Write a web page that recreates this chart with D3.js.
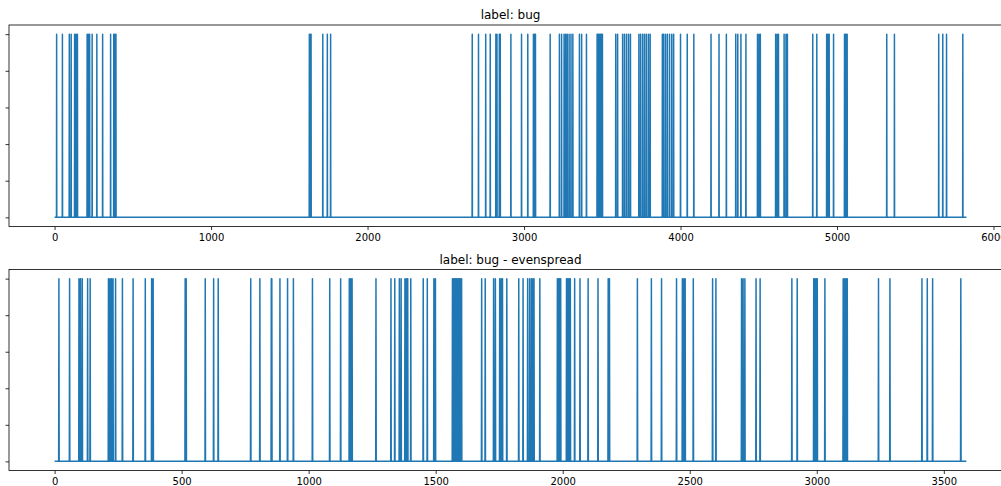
<!DOCTYPE html>
<html>
<head>
<meta charset="utf-8">
<script src="https://cdn.jsdelivr.net/npm/d3@7"></script>
<style>
  html, body { margin: 0; padding: 0; background: #fff; overflow: hidden; }
  svg { display: block; font-family: "DejaVu Sans", sans-serif; }
</style>
</head>
<body>
<svg id="chart" width="1001" height="486"></svg>
<script>
// Bug label positions (sample index where label == 1) for each ordering
const bugLength = 5828;
const bugOnes = [
  13, 50, 94, 106, 128, 137, 146, 208, 216, 224, 240, 270, 307, 358, 378, 386, 392,
  1628, 1634, 1639, 1714, 1743, 1764,
  2669, 2709, 2755, 2784, 2820, 2827, 2842, 2848, 2916, 2984, 3024, 3060, 3066, 3073,
  3167, 3226, 3240, 3256, 3266, 3276, 3288, 3300, 3312, 3354, 3368, 3399,
  3467, 3472, 3477, 3482, 3487, 3492, 3497, 3501, 3586, 3598, 3630,
  3642, 3655, 3668, 3680, 3734, 3745, 3758, 3770, 3782, 3795, 3806,
  3884, 3892, 3904, 3916, 3930, 3944, 3956, 4000, 4043, 4085, 4195, 4246, 4293,
  4353, 4366, 4386, 4418, 4492, 4502, 4510, 4608, 4618, 4626, 4662, 4674, 4683,
  4845, 4871, 4934, 4942, 4950, 4978, 5048, 5054, 5060, 5065, 5318, 5367, 5650, 5676,
  5700, 5804
];

const evenLength = 3590;
const evenOnes = [
  17, 59, 96, 102, 109, 130, 140, 212, 218, 224, 230, 240, 267, 309, 357, 382, 388,
  514, 518, 593, 626, 644, 772, 808, 853, 855, 887, 917, 940, 1015, 1083, 1126, 1160,
  1166, 1171, 1265, 1324, 1339, 1357, 1364, 1379, 1385, 1390, 1402, 1451, 1467, 1493,
  1499, 1566, 1570, 1574, 1578, 1582, 1586, 1590, 1594, 1598, 1602, 1681, 1695, 1728,
  1735, 1752, 1758, 1763, 1780, 1827, 1844, 1862, 1870, 1877, 1883, 1887, 1910, 1979,
  1984, 1988, 1992, 2015, 2020, 2025, 2030, 2047, 2068, 2100, 2139, 2179, 2184, 2294,
  2349, 2389, 2448, 2471, 2477, 2482, 2514, 2590, 2603, 2704, 2710, 2717, 2761, 2777,
  2902, 2923, 2988, 2993, 2998, 3002, 3032, 3104, 3110, 3115, 3120, 3243, 3288, 3414,
  3435, 3456, 3567
];

const bugTicks = [0, 1000, 2000, 3000, 4000, 5000, 6000];
const evenTicks = [0, 500, 1000, 1500, 2000, 2500, 3000, 3500];
const yTicks = [0, 0.2, 0.4, 0.6, 0.8, 1.0];

const panels = [
  { title: "label: bug", length: bugLength, ones: bugOnes, ticks: bugTicks, top: 25, bottom: 226.5 },
  { title: "label: bug - evenspread", length: evenLength, ones: evenOnes, ticks: evenTicks, top: 269.5, bottom: 470.5 }
];

const svg = d3.select("#chart");
const left = 9, right = 1012;
const color = "#1f77b4";

panels.forEach((p, k) => {
  const onesSet = new Set(p.ones);
  const series = d3.range(p.length).map(i => ({ i, v: onesSet.has(i) ? 1 : 0 }));

  const xMax = p.length - 1;
  const xPad = xMax * 0.05;
  const x = d3.scaleLinear().domain([-xPad, xMax + xPad]).range([left, right]);
  const y = d3.scaleLinear().domain([-0.05, 1.05]).range([p.bottom, p.top]);

  const g = svg.append("g");

  g.append("clipPath").attr("id", "clip" + k)
    .append("rect")
    .attr("x", left).attr("y", p.top)
    .attr("width", right - left).attr("height", p.bottom - p.top);

  const line = d3.line().x(d => x(d.i)).y(d => y(d.v));
  g.append("path")
    .datum(series)
    .attr("clip-path", `url(#clip${k})`)
    .attr("fill", "none")
    .attr("stroke", color)
    .attr("stroke-width", 1.5)
    .attr("stroke-linejoin", "round")
    .attr("d", line);

  // x axis
  const xAxis = d3.axisBottom(x).tickValues(p.ticks).tickSize(3.5).tickPadding(3.5)
    .tickFormat(d3.format("d"));
  const xg = g.append("g").attr("transform", `translate(0,${p.bottom})`).call(xAxis);
  xg.select(".domain").remove();
  xg.selectAll(".tick line").attr("stroke", "#000").attr("stroke-width", 0.8);
  xg.selectAll(".tick text").attr("font-size", 10).attr("fill", "#000")
    .attr("font-family", "DejaVu Sans, sans-serif");

  // y axis: ticks without labels
  const yAxis = d3.axisLeft(y).tickValues(yTicks).tickSize(3.5).tickFormat("");
  const yg = g.append("g").attr("transform", `translate(${left},0)`).call(yAxis);
  yg.select(".domain").remove();
  yg.selectAll(".tick line").attr("stroke", "#000").attr("stroke-width", 0.8);

  // frame
  g.append("rect")
    .attr("x", left).attr("y", p.top)
    .attr("width", right - left).attr("height", p.bottom - p.top)
    .attr("fill", "none").attr("stroke", "#000").attr("stroke-width", 0.8);

  // title
  g.append("text")
    .attr("x", (left + right) / 2).attr("y", p.top - 6)
    .attr("text-anchor", "middle")
    .attr("font-size", 12).attr("fill", "#000")
    .text(p.title);
});
</script>
</body>
</html>
